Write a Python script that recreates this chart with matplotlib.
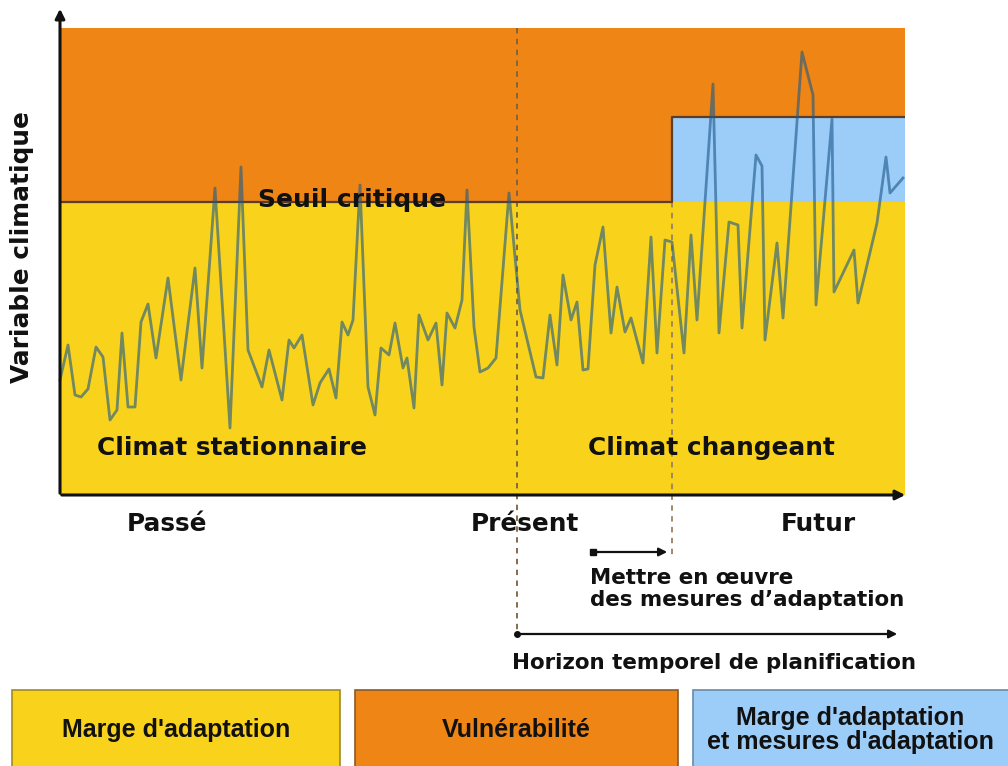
import matplotlib.pyplot as plt
from matplotlib.patches import Rectangle

# time axis (0 = start of record) and climate variable readings
time = [0, 8, 15, 21, 28, 36, 43, 50, 57, 62, 68, 75, 81, 88, 96, 108, 121, 135, 142, 155,
        170, 181, 188, 202, 209, 222, 229, 234, 242, 253, 260, 269, 276, 282, 288, 293, 300,
        308, 315, 321, 329, 335, 343, 347, 354, 359, 368, 376, 382, 387, 395, 402, 407, 414,
        420, 428, 436, 449, 460, 476, 483, 490, 497, 503, 511, 517, 523, 528, 535, 543, 551,
        557, 565, 571, 583, 591, 597, 605, 612, 624, 631, 637, 653, 659, 669, 678, 682, 696,
        702, 705, 717, 723, 742, 753, 756, 772, 774, 794, 798, 817, 826, 830, 843]
climate = [115, 150, 100, 98, 106, 148, 138, 75, 85, 162, 88, 88, 173, 191, 137, 217, 115,
           227, 127, 307, 67, 328, 145, 108, 145, 95, 155, 147, 160, 90, 112, 126, 97, 173,
           160, 175, 310, 108, 80, 147, 140, 172, 127, 137, 87, 180, 155, 172, 110, 182, 167,
           195, 305, 168, 123, 127, 137, 302, 185, 118, 117, 180, 130, 220, 175, 193, 125,
           126, 230, 268, 162, 208, 163, 177, 132, 258, 142, 255, 253, 142, 260, 175, 411,
           162, 273, 270, 167, 340, 329, 155, 252, 177, 443, 400, 190, 376, 203, 245, 192,
           272, 338, 302, 317]

t_end = 845
v_top = 467
threshold = 293
threshold_adapted = 378
t_present = 457
t_adapt = 612

YELLOW = '#f9d31b'
ORANGE = '#ee8514'
BLUE = '#9bcdf8'
DARK = '#111111'


def main():
    fig = plt.figure(figsize=(10.08, 7.66), dpi=100)
    ax = fig.add_axes([60 / 1008, 271 / 766, 845 / 1008, 467 / 766])
    ax.set_xlim(0, t_end)
    ax.set_ylim(0, v_top)
    ax.axis('off')

    # zones
    ax.add_patch(Rectangle((0, 0), t_end, threshold, color=YELLOW, lw=0, zorder=0))
    ax.add_patch(Rectangle((0, threshold), t_end, v_top - threshold, color=ORANGE, lw=0, zorder=0))
    ax.add_patch(Rectangle((t_adapt, threshold), t_end - t_adapt, threshold_adapted - threshold,
                           color=BLUE, lw=0, zorder=0))

    # critical threshold
    ax.plot([0, t_adapt, t_adapt, t_end], [threshold, threshold, threshold_adapted, threshold_adapted],
            color='#5b3d28', lw=1.6, zorder=2)

    # dashed markers
    ax.plot([t_present, t_present], [v_top, -140], color='#7a6040', lw=1.3,
            ls=(0, (3, 3)), clip_on=False, zorder=1)
    ax.plot([t_adapt, t_adapt], [threshold, -60], color='#9a8060', lw=1.3,
            ls=(0, (3, 3)), clip_on=False, zorder=1)

    # climate series
    ax.plot(time, climate, color='#1f5a8a', alpha=0.62, lw=2, zorder=3, clip_on=False)

    # axes with arrows
    ax.annotate('', xy=(0, v_top + 22), xytext=(0, -1), annotation_clip=False,
                arrowprops=dict(arrowstyle='-|>', color=DARK, lw=2.2, mutation_scale=14))
    ax.annotate('', xy=(t_end + 3, 0), xytext=(-1, 0), annotation_clip=False,
                arrowprops=dict(arrowstyle='-|>', color=DARK, lw=2.2, mutation_scale=14))

    # time arrows
    ax.annotate('', xy=(t_adapt - 2, -57), xytext=(533, -57), annotation_clip=False,
                arrowprops=dict(arrowstyle='-|>', color='#111111', lw=1.6, mutation_scale=12))
    ax.plot([533], [-57], 's', color='#111111', ms=4, clip_on=False)
    ax.annotate('', xy=(840, -139), xytext=(t_present, -139), annotation_clip=False,
                arrowprops=dict(arrowstyle='-|>', color='#111111', lw=1.6, mutation_scale=12))
    ax.plot([t_present], [-139], 'o', color='#111111', ms=4, clip_on=False)

    bold = dict(fontweight='bold', family='DejaVu Sans', color='#111111')
    ax.text(292, 295, 'Seuil critique', ha='center', va='center', fontsize=18, zorder=4, **bold)
    ax.text(37, 47, 'Climat stationnaire', ha='left', va='center', fontsize=17.8, **bold)
    ax.text(528, 47, 'Climat changeant', ha='left', va='center', fontsize=17.8, **bold)
    ax.text(107, -29, 'Passé', ha='center', va='center', fontsize=17.8, **bold)
    ax.text(465, -29, 'Présent', ha='center', va='center', fontsize=17.8, **bold)
    ax.text(758, -29, 'Futur', ha='center', va='center', fontsize=17.8, **bold)
    ax.text(530, -73, 'Mettre en œuvre\ndes mesures d\u2019adaptation', ha='left', va='top',
            fontsize=15.4, linespacing=1.12, **bold)
    ax.text(452, -168, 'Horizon temporel de planification', ha='left', va='center',
            fontsize=15.4, **bold)
    ax.text(-38, 248, 'Variable climatique', ha='center', va='center', rotation=90,
            fontsize=17.8, **bold)

    # legend boxes
    legend = [(-48, 328, YELLOW, '#a08a2a', 116, 'Marge d\'adaptation'),
              (295, 323, ORANGE, '#8a5a2a', 456, 'Vulnérabilité'),
              (633, 320, BLUE, '#6a8aa8', 790, 'Marge d\'adaptation\net mesures d\'adaptation')]
    for x0, w, fc, ec, xc, label in legend:
        ax.add_patch(Rectangle((x0, -290), w, 95, facecolor=fc, edgecolor=ec, lw=1.2,
                               clip_on=False))
        ax.text(xc, -235, label, ha='center', va='center', fontsize=18, fontweight='bold',
                family='Liberation Sans', color='#111111', linespacing=0.95)

    fig.savefig('out.png', dpi=100)


if __name__ == '__main__':
    main()
